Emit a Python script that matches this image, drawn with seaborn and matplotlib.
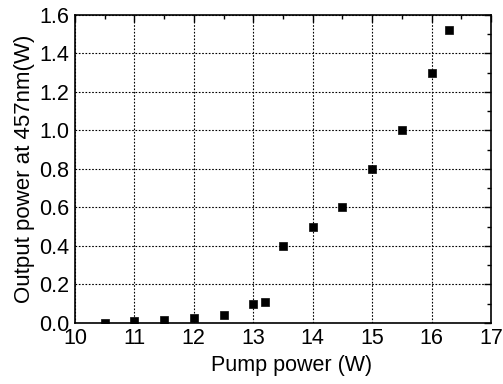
import matplotlib
matplotlib.use('Agg')
import matplotlib.pyplot as plt
import seaborn as sns
from matplotlib.ticker import MultipleLocator

# Pump power (W) and output power at 457 nm (W)
pump = [10.5, 11.0, 11.5, 12.0, 12.5, 13.0, 13.2, 13.5, 14.0, 14.5, 15.0, 15.5, 16.0, 16.3]
output = [0.0, 0.01, 0.015, 0.025, 0.04, 0.10, 0.11, 0.40, 0.50, 0.60, 0.80, 1.00, 1.30, 1.52]
yticks = [0.0, 0.2, 0.4, 0.6, 0.8, 1.0, 1.2, 1.4, 1.6]
ylabels = ['0.0', '0.2', '0.4', '0.6', '0.8', '1.0', '1.2', '1.4', '1.6']

sns.set_style('white')
plt.rcParams['font.family'] = ['Liberation Sans', 'DejaVu Sans']
plt.rcParams['text.color'] = 'black'
plt.rcParams['axes.labelcolor'] = 'black'
plt.rcParams['xtick.color'] = 'black'
plt.rcParams['ytick.color'] = 'black'

fig, ax = plt.subplots(figsize=(5.03, 3.84), dpi=100)
sns.scatterplot(x=pump, y=output, marker='s', s=34, color='black', edgecolor='black', ax=ax, zorder=3)

ax.set_xlim(10, 17)
ax.set_ylim(0, 1.6)
ax.xaxis.set_major_locator(MultipleLocator(1))
ax.xaxis.set_minor_locator(MultipleLocator(0.5))
ax.yaxis.set_minor_locator(MultipleLocator(0.1))
ax.set_yticks(yticks)
ax.set_yticklabels(ylabels)

ax.grid(True, which='major', color='black', linestyle=(0, (1.5, 1.5)), linewidth=0.8)
ax.tick_params(which='both', direction='in', top=True, right=True, labelsize=15.5)
ax.tick_params(which='major', length=5, width=1, pad=4)
ax.tick_params(which='minor', length=3, width=1)
for s in ax.spines.values():
    s.set_linewidth(1.2)
    s.set_color('black')

ax.set_xlabel('Pump power (W)', fontsize=15.5, labelpad=3)
ax.xaxis.set_label_coords(0.52, -0.105)
ax.set_ylabel('Output power at 457nm(W)', fontsize=16, labelpad=3)

fig.subplots_adjust(left=0.149, right=0.976, top=0.961, bottom=0.159)
fig.savefig('out.png', dpi=100)
